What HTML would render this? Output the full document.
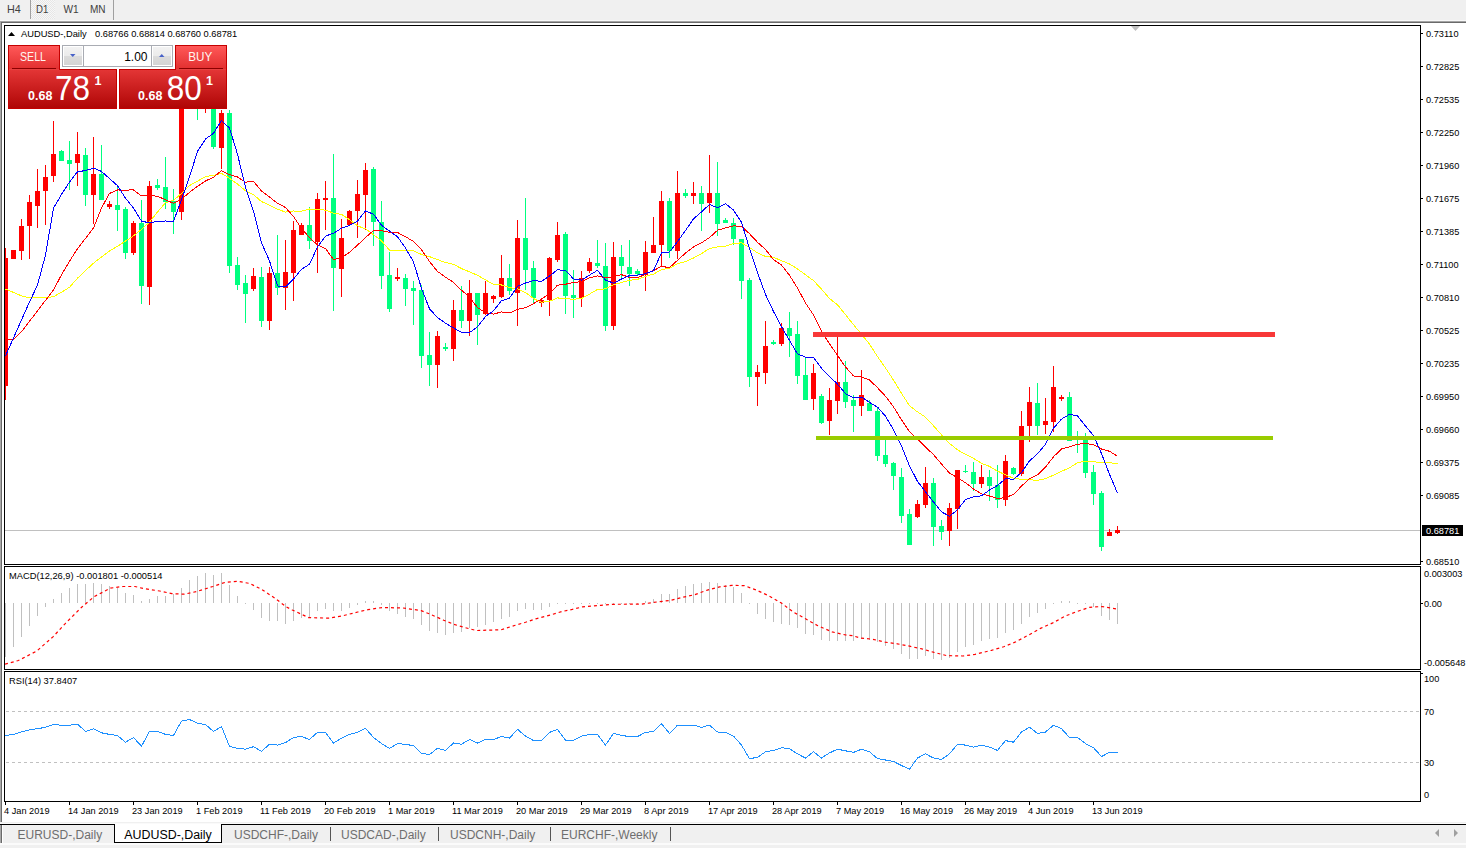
<!DOCTYPE html><html><head><meta charset="utf-8"><style>html,body{margin:0;padding:0;background:#f0f0f0;width:1466px;height:848px;overflow:hidden}svg{display:block}text{font-family:"Liberation Sans",sans-serif}</style></head><body>
<svg width="1466" height="848" viewBox="0 0 1466 848">
<defs>
<pattern id="chk" width="2" height="2" patternUnits="userSpaceOnUse"><rect width="2" height="2" fill="#f7f7f7"/><rect width="1" height="1" fill="#e6e6e6"/><rect x="1" y="1" width="1" height="1" fill="#e6e6e6"/></pattern>
<linearGradient id="hdr" x1="0" y1="0" x2="0" y2="1"><stop offset="0" stop-color="#ff5858"/><stop offset="1" stop-color="#e23030"/></linearGradient>
<linearGradient id="prc" x1="0" y1="0" x2="0" y2="1"><stop offset="0" stop-color="#e33535"/><stop offset="1" stop-color="#b00606"/></linearGradient>
<linearGradient id="btn" x1="0" y1="0" x2="0" y2="1"><stop offset="0" stop-color="#f2f2f2"/><stop offset="0.5" stop-color="#ebebeb"/><stop offset="0.5" stop-color="#dcdcdc"/><stop offset="1" stop-color="#d4d4d4"/></linearGradient>
<clipPath id="cmain"><rect x="5" y="26" width="1415" height="538"/></clipPath>
<clipPath id="cmacd"><rect x="5" y="567" width="1415" height="102"/></clipPath>
<clipPath id="crsi"><rect x="5" y="672" width="1415" height="129"/></clipPath>
</defs>
<rect x="0" y="0" width="1466" height="848" fill="#f0f0f0"/>
<rect x="31" y="0" width="24" height="19" fill="url(#chk)"/>
<rect x="30" y="0" width="1" height="19" fill="#a0a0a0"/>
<rect x="113" y="0" width="1" height="20" fill="#a0a0a0"/>
<rect x="0" y="20" width="1466" height="1" fill="#f8f8f8"/>
<text x="7" y="13" font-size="10.6" textLength="13.8" lengthAdjust="spacingAndGlyphs" fill="#404040">H4</text>
<text x="36" y="13" font-size="10.6" textLength="12.3" lengthAdjust="spacingAndGlyphs" fill="#404040">D1</text>
<text x="63.5" y="13" font-size="10.6" textLength="15.2" lengthAdjust="spacingAndGlyphs" fill="#404040">W1</text>
<text x="90" y="13" font-size="10.6" textLength="15.6" lengthAdjust="spacingAndGlyphs" fill="#404040">MN</text>
<rect x="0" y="21" width="1466" height="1" fill="#a4a4a4"/>
<rect x="0" y="22" width="1466" height="1" fill="#6a6a6a"/>
<rect x="0" y="21" width="1" height="801" fill="#a8a8a8"/>
<rect x="1" y="22" width="1" height="800" fill="#6a6a6a"/>
<rect x="2" y="23" width="1464" height="799" fill="#ffffff"/>
<g clip-path="url(#cmain)" shape-rendering="crispEdges">
<rect x="5" y="530" width="1415" height="1" fill="#c0c0c0"/>
<rect x="5" y="247.5" width="1" height="152.0" fill="#ff0000"/>
<rect x="3" y="257.5" width="5" height="128.0" fill="#ff0000"/>
<rect x="13" y="249.5" width="1" height="9.2" fill="#ff0000"/>
<rect x="11" y="250.0" width="5" height="8.8" fill="#ff0000"/>
<rect x="21" y="219.0" width="1" height="41.0" fill="#ff0000"/>
<rect x="19" y="226.0" width="5" height="25.0" fill="#ff0000"/>
<rect x="29" y="195.0" width="1" height="63.8" fill="#ff0000"/>
<rect x="27" y="202.0" width="5" height="23.5" fill="#ff0000"/>
<rect x="37" y="168.8" width="1" height="58.8" fill="#ff0000"/>
<rect x="35" y="191.2" width="5" height="15.0" fill="#ff0000"/>
<rect x="45" y="165.0" width="1" height="60.0" fill="#ff0000"/>
<rect x="43" y="177.0" width="5" height="13.5" fill="#ff0000"/>
<rect x="53" y="121.2" width="1" height="61.2" fill="#ff0000"/>
<rect x="51" y="153.8" width="5" height="21.8" fill="#ff0000"/>
<rect x="61" y="150.0" width="1" height="10.5" fill="#00ff7f"/>
<rect x="59" y="150.8" width="5" height="9.8" fill="#00ff7f"/>
<rect x="69" y="141.2" width="1" height="49.2" fill="#00ff7f"/>
<rect x="67" y="160.0" width="5" height="3.8" fill="#00ff7f"/>
<rect x="77" y="132.0" width="1" height="53.5" fill="#ff0000"/>
<rect x="75" y="153.8" width="5" height="8.8" fill="#ff0000"/>
<rect x="85" y="148.0" width="1" height="58.2" fill="#00ff7f"/>
<rect x="83" y="155.0" width="5" height="39.5" fill="#00ff7f"/>
<rect x="93" y="137.0" width="1" height="86.8" fill="#ff0000"/>
<rect x="91" y="173.8" width="5" height="20.8" fill="#ff0000"/>
<rect x="101" y="145.0" width="1" height="55.0" fill="#00ff7f"/>
<rect x="99" y="173.8" width="5" height="26.2" fill="#00ff7f"/>
<rect x="109" y="201.2" width="1" height="7.5" fill="#ff0000"/>
<rect x="107" y="203.8" width="5" height="3.2" fill="#ff0000"/>
<rect x="117" y="186.2" width="1" height="45.0" fill="#00ff7f"/>
<rect x="115" y="205.0" width="5" height="4.5" fill="#00ff7f"/>
<rect x="125" y="207.0" width="1" height="51.8" fill="#00ff7f"/>
<rect x="123" y="208.8" width="5" height="43.8" fill="#00ff7f"/>
<rect x="133" y="221.2" width="1" height="33.8" fill="#ff0000"/>
<rect x="131" y="222.5" width="5" height="30.5" fill="#ff0000"/>
<rect x="141" y="200.0" width="1" height="103.8" fill="#00ff7f"/>
<rect x="139" y="222.5" width="5" height="63.5" fill="#00ff7f"/>
<rect x="149" y="181.2" width="1" height="123.8" fill="#ff0000"/>
<rect x="147" y="186.2" width="5" height="100.8" fill="#ff0000"/>
<rect x="157" y="178.8" width="1" height="11.2" fill="#00ff7f"/>
<rect x="155" y="185.0" width="5" height="3.0" fill="#00ff7f"/>
<rect x="165" y="157.0" width="1" height="51.8" fill="#00ff7f"/>
<rect x="163" y="187.0" width="5" height="15.0" fill="#00ff7f"/>
<rect x="173" y="188.8" width="1" height="45.0" fill="#00ff7f"/>
<rect x="171" y="201.2" width="5" height="10.8" fill="#00ff7f"/>
<rect x="181" y="95.0" width="1" height="124.6" fill="#ff0000"/>
<rect x="179" y="102.0" width="5" height="110.3" fill="#ff0000"/>
<rect x="189" y="55.0" width="1" height="53.0" fill="#ff0000"/>
<rect x="187" y="61.5" width="5" height="40.5" fill="#ff0000"/>
<rect x="197" y="55.0" width="1" height="65.3" fill="#00ff7f"/>
<rect x="195" y="61.5" width="5" height="46.5" fill="#00ff7f"/>
<rect x="205" y="95.0" width="1" height="17.7" fill="#ff0000"/>
<rect x="203" y="100.0" width="5" height="8.0" fill="#ff0000"/>
<rect x="213" y="98.0" width="1" height="51.4" fill="#00ff7f"/>
<rect x="211" y="102.0" width="5" height="45.1" fill="#00ff7f"/>
<rect x="221" y="110.4" width="1" height="59.0" fill="#ff0000"/>
<rect x="219" y="112.7" width="5" height="34.9" fill="#ff0000"/>
<rect x="229" y="110.0" width="1" height="162.5" fill="#00ff7f"/>
<rect x="227" y="113.0" width="5" height="152.5" fill="#00ff7f"/>
<rect x="237" y="257.0" width="1" height="32.5" fill="#00ff7f"/>
<rect x="235" y="265.0" width="5" height="19.5" fill="#00ff7f"/>
<rect x="245" y="275.2" width="1" height="47.6" fill="#00ff7f"/>
<rect x="243" y="283.0" width="5" height="11.0" fill="#00ff7f"/>
<rect x="253" y="268.1" width="1" height="22.9" fill="#ff0000"/>
<rect x="251" y="276.0" width="5" height="12.6" fill="#ff0000"/>
<rect x="261" y="267.1" width="1" height="60.0" fill="#00ff7f"/>
<rect x="259" y="277.2" width="5" height="43.6" fill="#00ff7f"/>
<rect x="269" y="267.1" width="1" height="62.8" fill="#ff0000"/>
<rect x="267" y="273.0" width="5" height="47.8" fill="#ff0000"/>
<rect x="277" y="235.0" width="1" height="59.9" fill="#00ff7f"/>
<rect x="275" y="272.5" width="5" height="15.3" fill="#00ff7f"/>
<rect x="285" y="240.0" width="1" height="69.9" fill="#ff0000"/>
<rect x="283" y="272.1" width="5" height="15.7" fill="#ff0000"/>
<rect x="293" y="221.2" width="1" height="79.8" fill="#ff0000"/>
<rect x="291" y="230.0" width="5" height="42.8" fill="#ff0000"/>
<rect x="301" y="222.5" width="1" height="12.0" fill="#ff0000"/>
<rect x="299" y="225.0" width="5" height="9.5" fill="#ff0000"/>
<rect x="309" y="207.0" width="1" height="41.8" fill="#00ff7f"/>
<rect x="307" y="225.0" width="5" height="16.2" fill="#00ff7f"/>
<rect x="317" y="192.5" width="1" height="80.0" fill="#ff0000"/>
<rect x="315" y="198.8" width="5" height="43.2" fill="#ff0000"/>
<rect x="325" y="181.2" width="1" height="48.8" fill="#ff0000"/>
<rect x="323" y="198.0" width="5" height="2.0" fill="#ff0000"/>
<rect x="333" y="153.8" width="1" height="157.5" fill="#00ff7f"/>
<rect x="331" y="198.0" width="5" height="69.5" fill="#00ff7f"/>
<rect x="341" y="218.8" width="1" height="78.2" fill="#ff0000"/>
<rect x="339" y="237.5" width="5" height="31.2" fill="#ff0000"/>
<rect x="349" y="210.0" width="1" height="15.0" fill="#ff0000"/>
<rect x="347" y="210.5" width="5" height="14.0" fill="#ff0000"/>
<rect x="357" y="180.0" width="1" height="57.5" fill="#ff0000"/>
<rect x="355" y="193.8" width="5" height="17.5" fill="#ff0000"/>
<rect x="365" y="162.5" width="1" height="67.0" fill="#ff0000"/>
<rect x="363" y="170.0" width="5" height="25.0" fill="#ff0000"/>
<rect x="373" y="167.0" width="1" height="78.5" fill="#00ff7f"/>
<rect x="371" y="168.8" width="5" height="53.2" fill="#00ff7f"/>
<rect x="381" y="201.2" width="1" height="87.5" fill="#00ff7f"/>
<rect x="379" y="222.0" width="5" height="53.5" fill="#00ff7f"/>
<rect x="389" y="252.0" width="1" height="60.0" fill="#00ff7f"/>
<rect x="387" y="275.0" width="5" height="33.8" fill="#00ff7f"/>
<rect x="397" y="268.0" width="1" height="12.5" fill="#ff0000"/>
<rect x="395" y="277.0" width="5" height="2.0" fill="#ff0000"/>
<rect x="405" y="273.8" width="1" height="31.8" fill="#00ff7f"/>
<rect x="403" y="278.0" width="5" height="10.8" fill="#00ff7f"/>
<rect x="413" y="281.0" width="1" height="43.5" fill="#00ff7f"/>
<rect x="411" y="288.0" width="5" height="3.2" fill="#00ff7f"/>
<rect x="421" y="285.0" width="1" height="82.5" fill="#00ff7f"/>
<rect x="419" y="290.0" width="5" height="65.5" fill="#00ff7f"/>
<rect x="429" y="332.0" width="1" height="54.0" fill="#00ff7f"/>
<rect x="427" y="355.0" width="5" height="10.0" fill="#00ff7f"/>
<rect x="437" y="331.2" width="1" height="56.8" fill="#ff0000"/>
<rect x="435" y="336.2" width="5" height="29.2" fill="#ff0000"/>
<rect x="445" y="342.5" width="1" height="8.8" fill="#00ff7f"/>
<rect x="443" y="347.0" width="5" height="1.8" fill="#00ff7f"/>
<rect x="453" y="299.5" width="1" height="61.8" fill="#ff0000"/>
<rect x="451" y="309.5" width="5" height="39.2" fill="#ff0000"/>
<rect x="461" y="286.2" width="1" height="41.8" fill="#00ff7f"/>
<rect x="459" y="310.0" width="5" height="10.5" fill="#00ff7f"/>
<rect x="469" y="279.5" width="1" height="56.0" fill="#ff0000"/>
<rect x="467" y="292.5" width="5" height="28.0" fill="#ff0000"/>
<rect x="477" y="292.5" width="1" height="52.0" fill="#00ff7f"/>
<rect x="475" y="293.0" width="5" height="22.0" fill="#00ff7f"/>
<rect x="485" y="281.2" width="1" height="33.8" fill="#ff0000"/>
<rect x="483" y="293.0" width="5" height="20.8" fill="#ff0000"/>
<rect x="493" y="295.0" width="1" height="7.5" fill="#ff0000"/>
<rect x="491" y="296.2" width="5" height="2.5" fill="#ff0000"/>
<rect x="501" y="254.5" width="1" height="43.0" fill="#ff0000"/>
<rect x="499" y="278.0" width="5" height="19.0" fill="#ff0000"/>
<rect x="509" y="263.8" width="1" height="30.8" fill="#00ff7f"/>
<rect x="507" y="278.0" width="5" height="13.2" fill="#00ff7f"/>
<rect x="517" y="219.5" width="1" height="106.8" fill="#ff0000"/>
<rect x="515" y="238.0" width="5" height="54.5" fill="#ff0000"/>
<rect x="525" y="198.0" width="1" height="91.5" fill="#00ff7f"/>
<rect x="523" y="238.0" width="5" height="31.5" fill="#00ff7f"/>
<rect x="533" y="260.5" width="1" height="42.5" fill="#00ff7f"/>
<rect x="531" y="268.0" width="5" height="29.5" fill="#00ff7f"/>
<rect x="541" y="297.5" width="1" height="9.5" fill="#ff0000"/>
<rect x="539" y="299.5" width="5" height="3.5" fill="#ff0000"/>
<rect x="549" y="257.0" width="1" height="59.2" fill="#ff0000"/>
<rect x="547" y="258.0" width="5" height="42.0" fill="#ff0000"/>
<rect x="557" y="222.0" width="1" height="40.0" fill="#ff0000"/>
<rect x="555" y="235.0" width="5" height="25.0" fill="#ff0000"/>
<rect x="565" y="232.0" width="1" height="81.8" fill="#00ff7f"/>
<rect x="563" y="233.8" width="5" height="61.8" fill="#00ff7f"/>
<rect x="573" y="270.0" width="1" height="47.5" fill="#00ff7f"/>
<rect x="571" y="295.0" width="5" height="2.5" fill="#00ff7f"/>
<rect x="581" y="271.2" width="1" height="35.8" fill="#ff0000"/>
<rect x="579" y="278.0" width="5" height="19.5" fill="#ff0000"/>
<rect x="589" y="258.0" width="1" height="14.5" fill="#ff0000"/>
<rect x="587" y="262.0" width="5" height="8.5" fill="#ff0000"/>
<rect x="597" y="240.0" width="1" height="27.5" fill="#00ff7f"/>
<rect x="595" y="263.0" width="5" height="3.2" fill="#00ff7f"/>
<rect x="605" y="243.0" width="1" height="88.2" fill="#00ff7f"/>
<rect x="603" y="266.2" width="5" height="60.0" fill="#00ff7f"/>
<rect x="613" y="242.0" width="1" height="87.5" fill="#ff0000"/>
<rect x="611" y="257.0" width="5" height="69.2" fill="#ff0000"/>
<rect x="621" y="245.0" width="1" height="33.0" fill="#00ff7f"/>
<rect x="619" y="257.0" width="5" height="9.2" fill="#00ff7f"/>
<rect x="629" y="240.0" width="1" height="45.5" fill="#00ff7f"/>
<rect x="627" y="267.0" width="5" height="6.8" fill="#00ff7f"/>
<rect x="637" y="268.8" width="1" height="7.5" fill="#00ff7f"/>
<rect x="635" y="271.2" width="5" height="3.2" fill="#00ff7f"/>
<rect x="645" y="241.2" width="1" height="50.0" fill="#ff0000"/>
<rect x="643" y="252.0" width="5" height="22.5" fill="#ff0000"/>
<rect x="653" y="217.0" width="1" height="36.0" fill="#ff0000"/>
<rect x="651" y="245.0" width="5" height="7.5" fill="#ff0000"/>
<rect x="661" y="191.2" width="1" height="75.0" fill="#ff0000"/>
<rect x="659" y="201.2" width="5" height="44.2" fill="#ff0000"/>
<rect x="669" y="198.0" width="1" height="60.0" fill="#00ff7f"/>
<rect x="667" y="201.2" width="5" height="50.0" fill="#00ff7f"/>
<rect x="677" y="171.2" width="1" height="87.5" fill="#ff0000"/>
<rect x="675" y="193.0" width="5" height="57.5" fill="#ff0000"/>
<rect x="685" y="188.8" width="1" height="8.8" fill="#00ff7f"/>
<rect x="683" y="193.0" width="5" height="3.2" fill="#00ff7f"/>
<rect x="693" y="182.0" width="1" height="21.8" fill="#ff0000"/>
<rect x="691" y="193.0" width="5" height="2.5" fill="#ff0000"/>
<rect x="701" y="186.2" width="1" height="45.0" fill="#00ff7f"/>
<rect x="699" y="193.0" width="5" height="10.8" fill="#00ff7f"/>
<rect x="709" y="155.0" width="1" height="57.5" fill="#ff0000"/>
<rect x="707" y="193.0" width="5" height="9.5" fill="#ff0000"/>
<rect x="717" y="162.0" width="1" height="73.5" fill="#00ff7f"/>
<rect x="715" y="193.0" width="5" height="30.8" fill="#00ff7f"/>
<rect x="725" y="218.0" width="1" height="4.5" fill="#00ff7f"/>
<rect x="723" y="219.5" width="5" height="3.0" fill="#00ff7f"/>
<rect x="733" y="218.0" width="1" height="26.5" fill="#00ff7f"/>
<rect x="731" y="222.5" width="5" height="16.2" fill="#00ff7f"/>
<rect x="741" y="238.8" width="1" height="60.0" fill="#00ff7f"/>
<rect x="739" y="238.8" width="5" height="42.5" fill="#00ff7f"/>
<rect x="749" y="278.0" width="1" height="109.0" fill="#00ff7f"/>
<rect x="747" y="280.0" width="5" height="97.0" fill="#00ff7f"/>
<rect x="757" y="365.0" width="1" height="40.5" fill="#ff0000"/>
<rect x="755" y="372.0" width="5" height="5.0" fill="#ff0000"/>
<rect x="765" y="321.2" width="1" height="62.5" fill="#ff0000"/>
<rect x="763" y="345.5" width="5" height="27.5" fill="#ff0000"/>
<rect x="773" y="340.0" width="1" height="4.5" fill="#00ff7f"/>
<rect x="771" y="341.5" width="5" height="2.0" fill="#00ff7f"/>
<rect x="781" y="322.5" width="1" height="23.8" fill="#ff0000"/>
<rect x="779" y="328.0" width="5" height="15.8" fill="#ff0000"/>
<rect x="789" y="312.0" width="1" height="45.0" fill="#00ff7f"/>
<rect x="787" y="328.0" width="5" height="7.5" fill="#00ff7f"/>
<rect x="797" y="321.2" width="1" height="62.5" fill="#00ff7f"/>
<rect x="795" y="333.8" width="5" height="41.8" fill="#00ff7f"/>
<rect x="805" y="357.0" width="1" height="43.0" fill="#00ff7f"/>
<rect x="803" y="375.0" width="5" height="25.0" fill="#00ff7f"/>
<rect x="813" y="363.8" width="1" height="46.2" fill="#ff0000"/>
<rect x="811" y="373.0" width="5" height="25.8" fill="#ff0000"/>
<rect x="821" y="393.8" width="1" height="30.0" fill="#00ff7f"/>
<rect x="819" y="395.5" width="5" height="27.0" fill="#00ff7f"/>
<rect x="829" y="388.0" width="1" height="46.5" fill="#ff0000"/>
<rect x="827" y="400.0" width="5" height="21.2" fill="#ff0000"/>
<rect x="837" y="335.0" width="1" height="78.8" fill="#ff0000"/>
<rect x="835" y="382.0" width="5" height="19.2" fill="#ff0000"/>
<rect x="845" y="361.2" width="1" height="46.8" fill="#00ff7f"/>
<rect x="843" y="382.0" width="5" height="20.0" fill="#00ff7f"/>
<rect x="853" y="394.5" width="1" height="37.5" fill="#00ff7f"/>
<rect x="851" y="399.5" width="5" height="6.0" fill="#00ff7f"/>
<rect x="861" y="370.0" width="1" height="45.5" fill="#ff0000"/>
<rect x="859" y="394.5" width="5" height="11.0" fill="#ff0000"/>
<rect x="869" y="400.0" width="1" height="10.5" fill="#00ff7f"/>
<rect x="867" y="403.0" width="5" height="7.5" fill="#00ff7f"/>
<rect x="877" y="407.0" width="1" height="54.2" fill="#00ff7f"/>
<rect x="875" y="410.5" width="5" height="45.0" fill="#00ff7f"/>
<rect x="885" y="439.5" width="1" height="27.5" fill="#00ff7f"/>
<rect x="883" y="455.0" width="5" height="8.8" fill="#00ff7f"/>
<rect x="893" y="462.0" width="1" height="27.5" fill="#00ff7f"/>
<rect x="891" y="463.0" width="5" height="13.2" fill="#00ff7f"/>
<rect x="901" y="468.0" width="1" height="54.5" fill="#00ff7f"/>
<rect x="899" y="477.0" width="5" height="38.5" fill="#00ff7f"/>
<rect x="909" y="508.8" width="1" height="35.8" fill="#00ff7f"/>
<rect x="907" y="513.8" width="5" height="30.8" fill="#00ff7f"/>
<rect x="917" y="500.0" width="1" height="18.0" fill="#ff0000"/>
<rect x="915" y="503.8" width="5" height="13.2" fill="#ff0000"/>
<rect x="925" y="467.0" width="1" height="41.0" fill="#ff0000"/>
<rect x="923" y="483.0" width="5" height="21.5" fill="#ff0000"/>
<rect x="933" y="478.0" width="1" height="67.5" fill="#00ff7f"/>
<rect x="931" y="483.0" width="5" height="44.0" fill="#00ff7f"/>
<rect x="941" y="519.5" width="1" height="20.0" fill="#00ff7f"/>
<rect x="939" y="526.2" width="5" height="6.2" fill="#00ff7f"/>
<rect x="949" y="503.0" width="1" height="43.2" fill="#ff0000"/>
<rect x="947" y="508.0" width="5" height="23.2" fill="#ff0000"/>
<rect x="957" y="469.5" width="1" height="59.2" fill="#ff0000"/>
<rect x="955" y="470.0" width="5" height="38.8" fill="#ff0000"/>
<rect x="965" y="465.0" width="1" height="7.5" fill="#00ff7f"/>
<rect x="963" y="471.2" width="5" height="1.2" fill="#00ff7f"/>
<rect x="973" y="462.0" width="1" height="29.2" fill="#00ff7f"/>
<rect x="971" y="472.0" width="5" height="11.8" fill="#00ff7f"/>
<rect x="981" y="465.0" width="1" height="22.5" fill="#ff0000"/>
<rect x="979" y="477.0" width="5" height="6.8" fill="#ff0000"/>
<rect x="989" y="470.0" width="1" height="31.2" fill="#00ff7f"/>
<rect x="987" y="477.0" width="5" height="9.2" fill="#00ff7f"/>
<rect x="997" y="464.5" width="1" height="43.0" fill="#00ff7f"/>
<rect x="995" y="485.0" width="5" height="15.0" fill="#00ff7f"/>
<rect x="1005" y="455.0" width="1" height="50.5" fill="#ff0000"/>
<rect x="1003" y="461.2" width="5" height="38.8" fill="#ff0000"/>
<rect x="1013" y="467.0" width="1" height="7.5" fill="#00ff7f"/>
<rect x="1011" y="467.5" width="5" height="6.2" fill="#00ff7f"/>
<rect x="1021" y="410.5" width="1" height="65.8" fill="#ff0000"/>
<rect x="1019" y="426.2" width="5" height="47.5" fill="#ff0000"/>
<rect x="1029" y="387.0" width="1" height="55.0" fill="#ff0000"/>
<rect x="1027" y="402.0" width="5" height="23.5" fill="#ff0000"/>
<rect x="1037" y="383.0" width="1" height="51.5" fill="#00ff7f"/>
<rect x="1035" y="403.0" width="5" height="23.2" fill="#00ff7f"/>
<rect x="1045" y="398.0" width="1" height="35.8" fill="#ff0000"/>
<rect x="1043" y="421.2" width="5" height="4.2" fill="#ff0000"/>
<rect x="1053" y="366.2" width="1" height="66.2" fill="#ff0000"/>
<rect x="1051" y="387.0" width="5" height="35.0" fill="#ff0000"/>
<rect x="1061" y="394.5" width="1" height="6.0" fill="#ff0000"/>
<rect x="1059" y="397.0" width="5" height="1.5" fill="#ff0000"/>
<rect x="1069" y="392.0" width="1" height="48.5" fill="#00ff7f"/>
<rect x="1067" y="397.0" width="5" height="43.5" fill="#00ff7f"/>
<rect x="1077" y="430.5" width="1" height="22.0" fill="#00ff7f"/>
<rect x="1075" y="435.5" width="5" height="1.5" fill="#00ff7f"/>
<rect x="1085" y="433.0" width="1" height="44.5" fill="#00ff7f"/>
<rect x="1083" y="435.5" width="5" height="37.5" fill="#00ff7f"/>
<rect x="1093" y="464.5" width="1" height="40.0" fill="#00ff7f"/>
<rect x="1091" y="472.0" width="5" height="21.8" fill="#00ff7f"/>
<rect x="1101" y="490.5" width="1" height="60.0" fill="#00ff7f"/>
<rect x="1099" y="493.0" width="5" height="54.0" fill="#00ff7f"/>
<rect x="1109" y="528.8" width="1" height="7.5" fill="#ff0000"/>
<rect x="1107" y="532.0" width="5" height="4.2" fill="#ff0000"/>
<rect x="1117" y="525.5" width="1" height="8.2" fill="#ff0000"/>
<rect x="1115" y="529.5" width="5" height="3.5" fill="#ff0000"/>
</g>
<g clip-path="url(#cmain)">
<polyline fill="none" stroke="#ffff00" stroke-width="1" shape-rendering="crispEdges" points="5.5,289.0 13.5,292.4 21.5,295.9 29.5,297.9 37.5,297.7 45.5,297.6 53.5,296.8 61.5,292.2 69.5,287.3 77.5,278.2 85.5,270.6 93.5,263.2 101.5,257.0 109.5,251.1 117.5,246.2 125.5,241.1 133.5,235.9 141.5,229.4 149.5,222.0 157.5,212.0 165.5,202.6 173.5,200.4 181.5,193.4 189.5,185.5 197.5,181.1 205.5,176.7 213.5,175.3 221.5,173.3 229.5,178.3 237.5,184.1 245.5,190.8 253.5,194.6 261.5,201.6 269.5,205.1 277.5,209.1 285.5,212.1 293.5,211.0 301.5,211.2 309.5,209.0 317.5,209.6 325.5,210.1 333.5,213.2 341.5,214.4 349.5,219.6 357.5,225.9 365.5,228.8 373.5,234.7 381.5,240.8 389.5,250.1 397.5,250.7 405.5,250.9 413.5,250.7 421.5,254.5 429.5,256.6 437.5,259.6 445.5,262.5 453.5,264.3 461.5,268.6 469.5,271.8 477.5,275.3 485.5,279.8 493.5,284.5 501.5,285.0 509.5,287.6 517.5,288.9 525.5,292.5 533.5,298.6 541.5,302.2 549.5,301.4 557.5,297.9 565.5,298.8 573.5,299.2 581.5,298.6 589.5,294.1 597.5,289.4 605.5,288.9 613.5,284.6 621.5,282.5 629.5,280.3 637.5,279.4 645.5,276.4 653.5,274.1 661.5,269.6 669.5,268.3 677.5,263.7 685.5,261.7 693.5,258.0 701.5,253.6 709.5,248.5 717.5,246.9 725.5,246.3 733.5,243.6 741.5,242.8 749.5,247.5 757.5,252.8 765.5,256.5 773.5,257.3 781.5,260.7 789.5,264.0 797.5,268.9 805.5,274.8 813.5,280.6 821.5,289.1 829.5,298.5 837.5,304.8 845.5,314.7 853.5,324.7 861.5,334.3 869.5,344.1 877.5,356.6 885.5,368.0 893.5,380.1 901.5,393.3 909.5,405.8 917.5,411.9 925.5,417.2 933.5,425.8 941.5,434.8 949.5,443.4 957.5,449.8 965.5,454.4 973.5,458.4 981.5,463.3 989.5,466.4 997.5,471.1 1005.5,474.9 1013.5,478.3 1021.5,479.3 1029.5,479.7 1037.5,480.4 1045.5,478.8 1053.5,475.1 1061.5,471.4 1069.5,467.8 1077.5,462.7 1085.5,461.2 1093.5,461.7 1101.5,462.7 1109.5,462.6 1117.5,463.7"/>
<polyline fill="none" stroke="#ff0000" stroke-width="1" shape-rendering="crispEdges" points="5.5,340.0 13.5,339.6 21.5,331.7 29.5,321.3 37.5,310.8 45.5,300.4 53.5,290.0 61.5,274.8 69.5,261.3 77.5,248.7 85.5,238.4 93.5,228.0 101.5,208.0 109.5,193.4 117.5,190.0 125.5,190.1 133.5,189.9 141.5,195.9 149.5,195.5 157.5,196.3 165.5,199.8 173.5,203.4 181.5,199.0 189.5,192.4 197.5,186.3 205.5,181.0 213.5,177.2 221.5,170.7 229.5,174.7 237.5,177.0 245.5,182.1 253.5,181.4 261.5,191.0 269.5,197.1 277.5,203.2 285.5,207.5 293.5,216.6 301.5,228.3 309.5,237.8 317.5,244.9 325.5,248.5 333.5,259.6 341.5,257.6 349.5,252.3 357.5,245.1 365.5,237.6 373.5,230.5 381.5,230.7 389.5,232.2 397.5,232.5 405.5,236.7 413.5,241.5 421.5,249.6 429.5,261.5 437.5,271.4 445.5,277.2 453.5,282.3 461.5,290.2 469.5,297.2 477.5,307.6 485.5,312.7 493.5,314.1 501.5,311.9 509.5,313.0 517.5,309.3 525.5,307.8 533.5,303.6 541.5,299.0 549.5,293.4 557.5,285.2 565.5,284.2 573.5,282.6 581.5,281.6 589.5,277.8 597.5,275.9 605.5,278.0 613.5,276.5 621.5,274.7 629.5,277.3 637.5,277.6 645.5,274.4 653.5,270.5 661.5,266.4 669.5,267.6 677.5,260.3 685.5,253.1 693.5,247.0 701.5,242.8 709.5,237.6 717.5,230.3 725.5,227.8 733.5,225.8 741.5,226.4 749.5,233.7 757.5,242.3 765.5,249.4 773.5,259.6 781.5,265.1 789.5,275.3 797.5,288.1 805.5,302.9 813.5,314.9 821.5,331.3 829.5,343.9 837.5,355.3 845.5,367.0 853.5,375.9 861.5,377.1 869.5,379.9 877.5,387.7 885.5,396.3 893.5,406.9 901.5,419.8 909.5,431.8 917.5,439.2 925.5,447.1 933.5,454.6 941.5,464.0 949.5,473.0 957.5,477.9 965.5,482.7 973.5,489.0 981.5,493.8 989.5,496.0 997.5,498.6 1005.5,497.5 1013.5,494.5 1021.5,486.1 1029.5,478.8 1037.5,474.8 1045.5,467.2 1053.5,456.8 1061.5,448.9 1069.5,446.8 1077.5,444.2 1085.5,443.5 1093.5,444.7 1101.5,449.0 1109.5,451.3 1117.5,456.2"/>
<polyline fill="none" stroke="#0000ff" stroke-width="1" shape-rendering="crispEdges" points="5.5,356.0 13.5,338.0 21.5,320.0 29.5,302.0 37.5,285.0 45.5,255.0 53.5,208.2 61.5,194.4 69.5,182.0 77.5,171.7 85.5,170.6 93.5,168.1 101.5,171.4 109.5,178.6 117.5,185.6 125.5,198.2 133.5,208.1 141.5,221.1 149.5,222.9 157.5,221.2 165.5,221.0 173.5,221.3 181.5,199.8 189.5,176.8 197.5,151.4 205.5,139.1 213.5,133.2 221.5,120.5 229.5,128.1 237.5,154.2 245.5,187.4 253.5,211.4 261.5,242.9 269.5,260.9 277.5,285.9 285.5,286.9 293.5,279.1 301.5,269.2 309.5,264.3 317.5,246.8 325.5,236.1 333.5,233.2 341.5,228.3 349.5,225.5 357.5,221.0 365.5,210.9 373.5,214.2 381.5,225.2 389.5,231.1 397.5,236.8 405.5,248.0 413.5,261.9 421.5,288.4 429.5,308.8 437.5,317.5 445.5,323.2 453.5,327.9 461.5,332.4 469.5,332.6 477.5,326.8 485.5,316.5 493.5,310.8 501.5,300.7 509.5,298.1 517.5,286.3 525.5,283.0 533.5,280.5 541.5,281.4 549.5,276.0 557.5,269.8 565.5,270.4 573.5,278.9 581.5,280.1 589.5,275.1 597.5,270.3 605.5,280.1 613.5,283.2 621.5,279.0 629.5,275.6 637.5,275.1 645.5,273.7 653.5,270.7 661.5,252.8 669.5,252.0 677.5,241.5 685.5,230.5 693.5,218.8 701.5,211.9 709.5,204.5 717.5,207.7 725.5,203.6 733.5,210.1 741.5,222.3 749.5,248.6 757.5,272.6 765.5,294.4 773.5,311.5 781.5,326.6 789.5,340.4 797.5,353.9 805.5,357.1 813.5,357.3 821.5,368.3 829.5,376.4 837.5,384.1 845.5,393.6 853.5,397.9 861.5,397.1 869.5,402.4 877.5,407.1 885.5,416.2 893.5,429.7 901.5,445.9 909.5,465.8 917.5,481.4 925.5,491.8 933.5,502.0 941.5,511.8 949.5,516.3 957.5,509.8 965.5,499.5 973.5,496.7 981.5,495.8 989.5,490.0 997.5,485.4 1005.5,478.7 1013.5,479.2 1021.5,472.6 1029.5,460.9 1037.5,453.7 1045.5,444.4 1053.5,428.2 1061.5,419.1 1069.5,414.3 1077.5,415.9 1085.5,426.0 1093.5,435.6 1101.5,453.6 1109.5,474.3 1117.5,493.2"/>
<rect x="813" y="332" width="462" height="5" fill="#f83838"/>
<rect x="816" y="436" width="457" height="4" fill="#99cc00"/>
</g>
<polygon points="1131,26 1140,26 1135.5,31" fill="#c0c0c0"/>
<rect x="4" y="25" width="1417" height="1" fill="#000"/>
<rect x="4" y="564" width="1417" height="1" fill="#000"/>
<rect x="4" y="25" width="1" height="540" fill="#000"/>
<rect x="1420" y="25" width="1" height="540" fill="#000"/>
<rect x="1421" y="33" width="2" height="1" fill="#000"/>
<text x="1426" y="36.8" font-size="9.6" textLength="32.57" lengthAdjust="spacingAndGlyphs" fill="#000" >0.73110</text>
<rect x="1421" y="66" width="2" height="1" fill="#000"/>
<text x="1426" y="69.8" font-size="9.6" textLength="33.26" lengthAdjust="spacingAndGlyphs" fill="#000" >0.72825</text>
<rect x="1421" y="99" width="2" height="1" fill="#000"/>
<text x="1426" y="102.8" font-size="9.6" textLength="33.26" lengthAdjust="spacingAndGlyphs" fill="#000" >0.72535</text>
<rect x="1421" y="132" width="2" height="1" fill="#000"/>
<text x="1426" y="135.8" font-size="9.6" textLength="33.26" lengthAdjust="spacingAndGlyphs" fill="#000" >0.72250</text>
<rect x="1421" y="165" width="2" height="1" fill="#000"/>
<text x="1426" y="168.8" font-size="9.6" textLength="33.26" lengthAdjust="spacingAndGlyphs" fill="#000" >0.71960</text>
<rect x="1421" y="198" width="2" height="1" fill="#000"/>
<text x="1426" y="201.8" font-size="9.6" textLength="33.26" lengthAdjust="spacingAndGlyphs" fill="#000" >0.71675</text>
<rect x="1421" y="231" width="2" height="1" fill="#000"/>
<text x="1426" y="234.8" font-size="9.6" textLength="33.26" lengthAdjust="spacingAndGlyphs" fill="#000" >0.71385</text>
<rect x="1421" y="264" width="2" height="1" fill="#000"/>
<text x="1426" y="267.8" font-size="9.6" textLength="32.57" lengthAdjust="spacingAndGlyphs" fill="#000" >0.71100</text>
<rect x="1421" y="297" width="2" height="1" fill="#000"/>
<text x="1426" y="300.8" font-size="9.6" textLength="33.26" lengthAdjust="spacingAndGlyphs" fill="#000" >0.70810</text>
<rect x="1421" y="330" width="2" height="1" fill="#000"/>
<text x="1426" y="333.8" font-size="9.6" textLength="33.26" lengthAdjust="spacingAndGlyphs" fill="#000" >0.70525</text>
<rect x="1421" y="363" width="2" height="1" fill="#000"/>
<text x="1426" y="366.8" font-size="9.6" textLength="33.26" lengthAdjust="spacingAndGlyphs" fill="#000" >0.70235</text>
<rect x="1421" y="396" width="2" height="1" fill="#000"/>
<text x="1426" y="399.8" font-size="9.6" textLength="33.26" lengthAdjust="spacingAndGlyphs" fill="#000" >0.69950</text>
<rect x="1421" y="429" width="2" height="1" fill="#000"/>
<text x="1426" y="432.8" font-size="9.6" textLength="33.26" lengthAdjust="spacingAndGlyphs" fill="#000" >0.69660</text>
<rect x="1421" y="462" width="2" height="1" fill="#000"/>
<text x="1426" y="465.8" font-size="9.6" textLength="33.26" lengthAdjust="spacingAndGlyphs" fill="#000" >0.69375</text>
<rect x="1421" y="495" width="2" height="1" fill="#000"/>
<text x="1426" y="498.8" font-size="9.6" textLength="33.26" lengthAdjust="spacingAndGlyphs" fill="#000" >0.69085</text>
<rect x="1421" y="561" width="2" height="1" fill="#000"/>
<text x="1426" y="564.5" font-size="9.6" textLength="33.26" lengthAdjust="spacingAndGlyphs" fill="#000" >0.68510</text>
<rect x="1422" y="525" width="41" height="11" fill="#000"/>
<text x="1426" y="533.5" font-size="9.6" textLength="33.26" lengthAdjust="spacingAndGlyphs" fill="#fff" >0.68781</text>
<polygon points="8,36 15,36 11.5,32" fill="#000"/>
<text x="21" y="37" font-size="9.6" textLength="65.62" lengthAdjust="spacingAndGlyphs" fill="#000" >AUDUSD-,Daily</text>
<text x="95" y="37" font-size="9.6" textLength="142.22" lengthAdjust="spacingAndGlyphs" fill="#000" >0.68766 0.68814 0.68760 0.68781</text>
<rect x="8" y="45" width="219" height="64" fill="#fff"/>
<rect x="8" y="45" width="52" height="25" fill="#c40000"/>
<rect x="9" y="46" width="50" height="23" fill="url(#hdr)"/>
<rect x="175" y="45" width="52" height="25" fill="#c40000"/>
<rect x="176" y="46" width="50" height="23" fill="url(#hdr)"/>
<rect x="8" y="69" width="109" height="40" fill="#c40000"/>
<rect x="9" y="70" width="107" height="38" fill="url(#prc)"/>
<rect x="9" y="69" width="50" height="1" fill="#e64040"/>
<rect x="119" y="69" width="108" height="40" fill="#c40000"/>
<rect x="120" y="70" width="106" height="38" fill="url(#prc)"/>
<rect x="176" y="69" width="50" height="1" fill="#e64040"/>
<rect x="12" y="68" width="44" height="1" fill="#8a0000"/>
<rect x="179" y="68" width="44" height="1" fill="#8a0000"/>
<rect x="62" y="45" width="111" height="22" fill="#a9acb3"/>
<rect x="63" y="46" width="109" height="20" fill="#fff"/>
<rect x="64" y="47" width="18" height="18" fill="url(#btn)"/>
<rect x="83" y="46" width="1" height="20" fill="#a9acb3"/>
<rect x="151" y="46" width="1" height="20" fill="#a9acb3"/>
<rect x="153" y="47" width="18" height="18" fill="url(#btn)"/>
<polygon points="70,54 75.5,54 72.75,57" fill="#4862c8"/>
<polygon points="159,57 164.5,57 161.75,54" fill="#4862c8"/>
<text x="147.5" y="60.5" font-size="12" text-anchor="end" fill="#000">1.00</text>
<text x="20" y="61" font-size="12.6" textLength="26" lengthAdjust="spacingAndGlyphs" fill="#fff5f0">SELL</text>
<text x="188.3" y="61" font-size="12.6" textLength="24" lengthAdjust="spacingAndGlyphs" fill="#fff5f0">BUY</text>
<text x="28" y="100" font-size="12.5" font-weight="bold" fill="#fff">0.68</text>
<text x="55" y="100.3" font-size="34.5" textLength="35" lengthAdjust="spacingAndGlyphs" fill="#fff">78</text>
<text x="94.5" y="84.5" font-size="12.5" font-weight="bold" fill="#fff">1</text>
<text x="138" y="100" font-size="12.5" font-weight="bold" fill="#fff">0.68</text>
<text x="166.8" y="100.3" font-size="34.5" textLength="35" lengthAdjust="spacingAndGlyphs" fill="#fff">80</text>
<text x="206" y="84.5" font-size="12.5" font-weight="bold" fill="#fff">1</text>
<g clip-path="url(#cmacd)" shape-rendering="crispEdges">
<rect x="5" y="603.0" width="1" height="54.0" fill="#c0c0c0"/>
<rect x="13" y="603.0" width="1" height="43.8" fill="#c0c0c0"/>
<rect x="21" y="603.0" width="1" height="33.6" fill="#c0c0c0"/>
<rect x="29" y="603.0" width="1" height="22.7" fill="#c0c0c0"/>
<rect x="37" y="603.0" width="1" height="12.5" fill="#c0c0c0"/>
<rect x="45" y="603.0" width="1" height="3.5" fill="#c0c0c0"/>
<rect x="53" y="598.7" width="1" height="4.3" fill="#c0c0c0"/>
<rect x="61" y="592.6" width="1" height="10.4" fill="#c0c0c0"/>
<rect x="69" y="588.0" width="1" height="15.0" fill="#c0c0c0"/>
<rect x="77" y="584.0" width="1" height="19.0" fill="#c0c0c0"/>
<rect x="85" y="584.0" width="1" height="19.0" fill="#c0c0c0"/>
<rect x="93" y="582.8" width="1" height="20.2" fill="#c0c0c0"/>
<rect x="101" y="584.0" width="1" height="19.0" fill="#c0c0c0"/>
<rect x="109" y="586.0" width="1" height="17.0" fill="#c0c0c0"/>
<rect x="117" y="588.0" width="1" height="15.0" fill="#c0c0c0"/>
<rect x="125" y="592.6" width="1" height="10.4" fill="#c0c0c0"/>
<rect x="133" y="594.6" width="1" height="8.4" fill="#c0c0c0"/>
<rect x="141" y="601.2" width="1" height="1.8" fill="#c0c0c0"/>
<rect x="149" y="599.0" width="1" height="4.0" fill="#c0c0c0"/>
<rect x="157" y="596.3" width="1" height="6.7" fill="#c0c0c0"/>
<rect x="165" y="595.7" width="1" height="7.3" fill="#c0c0c0"/>
<rect x="173" y="594.2" width="1" height="8.8" fill="#c0c0c0"/>
<rect x="181" y="588.0" width="1" height="15.0" fill="#c0c0c0"/>
<rect x="189" y="580.0" width="1" height="23.0" fill="#c0c0c0"/>
<rect x="197" y="576.2" width="1" height="26.8" fill="#c0c0c0"/>
<rect x="205" y="573.2" width="1" height="29.8" fill="#c0c0c0"/>
<rect x="213" y="575.2" width="1" height="27.8" fill="#c0c0c0"/>
<rect x="221" y="573.2" width="1" height="29.8" fill="#c0c0c0"/>
<rect x="229" y="584.8" width="1" height="18.2" fill="#c0c0c0"/>
<rect x="237" y="596.3" width="1" height="6.7" fill="#c0c0c0"/>
<rect x="245" y="603" width="1" height="1" fill="#c0c0c0"/>
<rect x="253" y="603.0" width="1" height="7.0" fill="#c0c0c0"/>
<rect x="261" y="603.0" width="1" height="14.6" fill="#c0c0c0"/>
<rect x="269" y="603.0" width="1" height="17.8" fill="#c0c0c0"/>
<rect x="277" y="603.0" width="1" height="17.8" fill="#c0c0c0"/>
<rect x="285" y="603.0" width="1" height="20.7" fill="#c0c0c0"/>
<rect x="293" y="603.0" width="1" height="17.8" fill="#c0c0c0"/>
<rect x="301" y="603.0" width="1" height="14.6" fill="#c0c0c0"/>
<rect x="309" y="603.0" width="1" height="14.2" fill="#c0c0c0"/>
<rect x="317" y="603.0" width="1" height="8.4" fill="#c0c0c0"/>
<rect x="325" y="603.0" width="1" height="6.0" fill="#c0c0c0"/>
<rect x="333" y="603.0" width="1" height="7.6" fill="#c0c0c0"/>
<rect x="341" y="603.0" width="1" height="7.6" fill="#c0c0c0"/>
<rect x="349" y="603.0" width="1" height="5.0" fill="#c0c0c0"/>
<rect x="357" y="603.0" width="1" height="1.9" fill="#c0c0c0"/>
<rect x="365" y="601.2" width="1" height="1.8" fill="#c0c0c0"/>
<rect x="373" y="601.2" width="1" height="1.8" fill="#c0c0c0"/>
<rect x="381" y="603.0" width="1" height="1.9" fill="#c0c0c0"/>
<rect x="389" y="603.0" width="1" height="8.4" fill="#c0c0c0"/>
<rect x="397" y="603.0" width="1" height="10.5" fill="#c0c0c0"/>
<rect x="405" y="603.0" width="1" height="13.7" fill="#c0c0c0"/>
<rect x="413" y="603.0" width="1" height="15.8" fill="#c0c0c0"/>
<rect x="421" y="603.0" width="1" height="21.9" fill="#c0c0c0"/>
<rect x="429" y="603.0" width="1" height="27.5" fill="#c0c0c0"/>
<rect x="437" y="603.0" width="1" height="29.5" fill="#c0c0c0"/>
<rect x="445" y="603.0" width="1" height="31.5" fill="#c0c0c0"/>
<rect x="453" y="603.0" width="1" height="29.5" fill="#c0c0c0"/>
<rect x="461" y="603.0" width="1" height="28.5" fill="#c0c0c0"/>
<rect x="469" y="603.0" width="1" height="25.4" fill="#c0c0c0"/>
<rect x="477" y="603.0" width="1" height="24.4" fill="#c0c0c0"/>
<rect x="485" y="603.0" width="1" height="21.9" fill="#c0c0c0"/>
<rect x="493" y="603.0" width="1" height="19.3" fill="#c0c0c0"/>
<rect x="501" y="603.0" width="1" height="15.8" fill="#c0c0c0"/>
<rect x="509" y="603.0" width="1" height="13.7" fill="#c0c0c0"/>
<rect x="517" y="603.0" width="1" height="7.6" fill="#c0c0c0"/>
<rect x="525" y="603.0" width="1" height="6.0" fill="#c0c0c0"/>
<rect x="533" y="603.0" width="1" height="7.0" fill="#c0c0c0"/>
<rect x="541" y="603.0" width="1" height="7.0" fill="#c0c0c0"/>
<rect x="549" y="603.0" width="1" height="4.0" fill="#c0c0c0"/>
<rect x="557" y="603" width="1" height="1" fill="#c0c0c0"/>
<rect x="565" y="603" width="1" height="1" fill="#c0c0c0"/>
<rect x="573" y="603.0" width="1" height="1.0" fill="#c0c0c0"/>
<rect x="581" y="603.0" width="1" height="1.0" fill="#c0c0c0"/>
<rect x="589" y="603" width="1" height="1" fill="#c0c0c0"/>
<rect x="597" y="603" width="1" height="1" fill="#c0c0c0"/>
<rect x="605" y="603" width="1" height="1" fill="#c0c0c0"/>
<rect x="613" y="603" width="1" height="1" fill="#c0c0c0"/>
<rect x="621" y="603" width="1" height="1" fill="#c0c0c0"/>
<rect x="629" y="603" width="1" height="1" fill="#c0c0c0"/>
<rect x="637" y="603" width="1" height="1" fill="#c0c0c0"/>
<rect x="645" y="601.2" width="1" height="1.8" fill="#c0c0c0"/>
<rect x="653" y="598.7" width="1" height="4.3" fill="#c0c0c0"/>
<rect x="661" y="594.2" width="1" height="8.8" fill="#c0c0c0"/>
<rect x="669" y="594.2" width="1" height="8.8" fill="#c0c0c0"/>
<rect x="677" y="588.9" width="1" height="14.1" fill="#c0c0c0"/>
<rect x="685" y="586.0" width="1" height="17.0" fill="#c0c0c0"/>
<rect x="693" y="584.0" width="1" height="19.0" fill="#c0c0c0"/>
<rect x="701" y="582.8" width="1" height="20.2" fill="#c0c0c0"/>
<rect x="709" y="582.0" width="1" height="21.0" fill="#c0c0c0"/>
<rect x="717" y="582.8" width="1" height="20.2" fill="#c0c0c0"/>
<rect x="725" y="584.8" width="1" height="18.2" fill="#c0c0c0"/>
<rect x="733" y="586.9" width="1" height="16.1" fill="#c0c0c0"/>
<rect x="741" y="593.0" width="1" height="10.0" fill="#c0c0c0"/>
<rect x="749" y="603" width="1" height="1" fill="#c0c0c0"/>
<rect x="757" y="603.0" width="1" height="11.1" fill="#c0c0c0"/>
<rect x="765" y="603.0" width="1" height="15.8" fill="#c0c0c0"/>
<rect x="773" y="603.0" width="1" height="18.7" fill="#c0c0c0"/>
<rect x="781" y="603.0" width="1" height="20.7" fill="#c0c0c0"/>
<rect x="789" y="603.0" width="1" height="21.9" fill="#c0c0c0"/>
<rect x="797" y="603.0" width="1" height="25.4" fill="#c0c0c0"/>
<rect x="805" y="603.0" width="1" height="30.5" fill="#c0c0c0"/>
<rect x="813" y="603.0" width="1" height="31.5" fill="#c0c0c0"/>
<rect x="821" y="603.0" width="1" height="36.7" fill="#c0c0c0"/>
<rect x="829" y="603.0" width="1" height="37.7" fill="#c0c0c0"/>
<rect x="837" y="603.0" width="1" height="37.7" fill="#c0c0c0"/>
<rect x="845" y="603.0" width="1" height="37.7" fill="#c0c0c0"/>
<rect x="853" y="603.0" width="1" height="37.7" fill="#c0c0c0"/>
<rect x="861" y="603.0" width="1" height="35.6" fill="#c0c0c0"/>
<rect x="869" y="603.0" width="1" height="36.7" fill="#c0c0c0"/>
<rect x="877" y="603.0" width="1" height="39.1" fill="#c0c0c0"/>
<rect x="885" y="603.0" width="1" height="42.8" fill="#c0c0c0"/>
<rect x="893" y="603.0" width="1" height="45.9" fill="#c0c0c0"/>
<rect x="901" y="603.0" width="1" height="50.6" fill="#c0c0c0"/>
<rect x="909" y="603.0" width="1" height="55.5" fill="#c0c0c0"/>
<rect x="917" y="603.0" width="1" height="55.5" fill="#c0c0c0"/>
<rect x="925" y="603.0" width="1" height="53.4" fill="#c0c0c0"/>
<rect x="933" y="603.0" width="1" height="55.5" fill="#c0c0c0"/>
<rect x="941" y="603.0" width="1" height="56.7" fill="#c0c0c0"/>
<rect x="949" y="603.0" width="1" height="54.7" fill="#c0c0c0"/>
<rect x="957" y="603.0" width="1" height="48.5" fill="#c0c0c0"/>
<rect x="965" y="603.0" width="1" height="44.4" fill="#c0c0c0"/>
<rect x="973" y="603.0" width="1" height="41.8" fill="#c0c0c0"/>
<rect x="981" y="603.0" width="1" height="37.7" fill="#c0c0c0"/>
<rect x="989" y="603.0" width="1" height="35.6" fill="#c0c0c0"/>
<rect x="997" y="603.0" width="1" height="34.6" fill="#c0c0c0"/>
<rect x="1005" y="603.0" width="1" height="29.5" fill="#c0c0c0"/>
<rect x="1013" y="603.0" width="1" height="26.8" fill="#c0c0c0"/>
<rect x="1021" y="603.0" width="1" height="20.7" fill="#c0c0c0"/>
<rect x="1029" y="603.0" width="1" height="13.7" fill="#c0c0c0"/>
<rect x="1037" y="603.0" width="1" height="9.7" fill="#c0c0c0"/>
<rect x="1045" y="603.0" width="1" height="5.6" fill="#c0c0c0"/>
<rect x="1053" y="603" width="1" height="1" fill="#c0c0c0"/>
<rect x="1061" y="601.2" width="1" height="1.8" fill="#c0c0c0"/>
<rect x="1069" y="601.2" width="1" height="1.8" fill="#c0c0c0"/>
<rect x="1077" y="603" width="1" height="1" fill="#c0c0c0"/>
<rect x="1085" y="603" width="1" height="1" fill="#c0c0c0"/>
<rect x="1093" y="603.0" width="1" height="3.9" fill="#c0c0c0"/>
<rect x="1101" y="603.0" width="1" height="12.5" fill="#c0c0c0"/>
<rect x="1109" y="603.0" width="1" height="16.6" fill="#c0c0c0"/>
<rect x="1117" y="603.0" width="1" height="20.7" fill="#c0c0c0"/>
</g>
<g clip-path="url(#cmacd)">
<polyline fill="none" stroke="#ff0000" stroke-width="1.2" stroke-dasharray="3,3" points="5.0,664.2 18.4,660.5 36.8,651.0 53.2,636.6 65.5,623.3 81.9,607.0 94.1,596.7 110.5,588.1 122.8,586.5 135.0,586.5 143.2,588.5 159.6,591.0 171.9,593.6 184.2,594.2 196.4,591.6 212.8,586.5 225.0,582.4 237.4,581.3 249.6,583.4 261.9,589.5 274.2,597.7 286.5,607.0 292.3,610.0 308.6,617.6 329.1,618.2 341.4,616.1 357.8,612.0 368.0,609.6 382.3,607.5 402.8,608.0 421.2,610.6 431.4,614.7 443.7,620.2 453.9,624.3 464.2,627.4 476.4,630.5 501.0,629.8 515.3,625.3 525.5,622.3 535.8,618.8 550.1,615.1 562.4,611.4 572.3,609.4 582.5,606.9 600.9,605.3 613.2,604.3 641.8,604.1 658.2,601.8 670.5,600.4 682.8,597.3 695.0,594.6 707.3,590.1 719.6,586.9 731.9,585.4 744.2,585.6 756.4,590.1 768.7,595.7 781.0,602.8 793.3,612.0 805.5,618.8 817.8,625.7 832.1,631.9 846.5,635.2 852.3,635.6 860.5,638.0 872.7,639.3 885.0,642.1 897.3,643.8 909.6,646.2 921.9,648.9 934.1,652.4 946.4,655.6 962.8,656.0 975.0,654.4 991.4,650.3 1003.7,646.8 1016.0,641.7 1028.3,635.2 1040.5,628.4 1052.8,622.9 1065.1,616.1 1077.4,611.4 1089.6,607.3 1101.9,606.5 1117.0,609.0"/>
</g>
<rect x="4" y="566" width="1417" height="1" fill="#000"/>
<rect x="4" y="669" width="1417" height="1" fill="#000"/>
<rect x="4" y="566" width="1" height="104" fill="#000"/>
<rect x="1420" y="566" width="1" height="104" fill="#000"/>
<text x="9" y="578.5" font-size="9.6" textLength="153.55" lengthAdjust="spacingAndGlyphs" fill="#000" >MACD(12,26,9) -0.001801 -0.000514</text>
<text x="1424" y="576.5" font-size="9.6" textLength="38.37" lengthAdjust="spacingAndGlyphs" fill="#000" >0.003003</text>
<text x="1424" y="606.5" font-size="9.6" textLength="17.91" lengthAdjust="spacingAndGlyphs" fill="#000" >0.00</text>
<text x="1424" y="665.5" font-size="9.6" textLength="41.44" lengthAdjust="spacingAndGlyphs" fill="#000" >-0.005648</text>
<rect x="1421" y="603" width="2" height="1" fill="#000"/>
<g clip-path="url(#crsi)">
<line x1="6" y1="711.5" x2="1420" y2="711.5" stroke="#c0c0c0" stroke-width="1" stroke-dasharray="3,3"/>
<line x1="6" y1="762.5" x2="1420" y2="762.5" stroke="#c0c0c0" stroke-width="1" stroke-dasharray="3,3"/>
<polyline fill="none" stroke="#1e90ff" stroke-width="1" shape-rendering="crispEdges" points="5.5,735.5 13.5,734.4 21.5,731.8 29.5,729.9 37.5,728.7 45.5,727.3 53.5,724.6 61.5,725.2 69.5,725.2 77.5,724.2 85.5,731.4 93.5,728.7 101.5,732.8 109.5,734.4 117.5,735.5 125.5,742.2 133.5,737.5 141.5,746.3 149.5,731.4 157.5,731.4 165.5,734.4 173.5,735.5 181.5,721.1 189.5,719.5 197.5,723.2 205.5,724.6 213.5,731.4 221.5,726.7 229.5,746.3 237.5,748.3 245.5,749.2 253.5,746.7 261.5,751.2 269.5,744.3 277.5,745.1 285.5,742.6 293.5,737.5 301.5,736.5 309.5,739.5 317.5,732.4 325.5,732.4 333.5,743.0 341.5,738.1 349.5,734.4 357.5,732.4 365.5,728.3 373.5,737.5 381.5,743.6 389.5,748.3 397.5,743.6 405.5,744.3 413.5,745.7 421.5,753.3 429.5,754.5 437.5,748.3 445.5,750.4 453.5,743.0 461.5,744.3 469.5,739.5 477.5,743.0 485.5,739.5 493.5,739.5 501.5,736.5 509.5,738.1 517.5,729.3 525.5,736.1 533.5,740.6 541.5,740.6 549.5,732.4 557.5,729.3 565.5,740.2 573.5,740.2 581.5,736.1 589.5,734.4 597.5,734.4 605.5,745.1 613.5,733.4 621.5,735.5 629.5,736.5 637.5,736.5 645.5,732.4 653.5,731.4 661.5,723.8 669.5,733.4 677.5,725.2 685.5,725.2 693.5,725.2 701.5,727.3 709.5,725.2 717.5,732.0 725.5,732.4 733.5,736.1 741.5,745.1 749.5,758.6 757.5,757.4 765.5,751.8 773.5,750.4 781.5,747.7 789.5,748.8 797.5,753.9 805.5,758.0 813.5,751.8 821.5,758.0 829.5,752.9 837.5,749.2 845.5,750.8 853.5,752.4 861.5,749.2 869.5,751.8 877.5,758.6 885.5,760.0 893.5,761.4 901.5,765.5 909.5,769.2 917.5,758.0 925.5,753.9 933.5,758.0 941.5,759.4 949.5,753.9 957.5,744.3 965.5,745.1 973.5,747.1 981.5,745.1 989.5,747.1 997.5,750.4 1005.5,740.6 1013.5,742.2 1021.5,732.0 1029.5,727.3 1037.5,733.4 1045.5,732.0 1053.5,725.2 1061.5,728.7 1069.5,737.5 1077.5,737.5 1085.5,743.6 1093.5,747.7 1101.5,756.5 1109.5,752.4 1117.5,752.4"/>
</g>
<rect x="4" y="671" width="1417" height="1" fill="#000"/>
<rect x="4" y="801" width="1417" height="1" fill="#000"/>
<rect x="4" y="671" width="1" height="131" fill="#000"/>
<rect x="1420" y="671" width="1" height="131" fill="#000"/>
<text x="9" y="684" font-size="9.6" textLength="68.24" lengthAdjust="spacingAndGlyphs" fill="#000" >RSI(14) 37.8407</text>
<text x="1424" y="682" font-size="9.6" textLength="15.35" lengthAdjust="spacingAndGlyphs" fill="#000" >100</text>
<text x="1424" y="715" font-size="9.6" textLength="10.23" lengthAdjust="spacingAndGlyphs" fill="#000" >70</text>
<text x="1424" y="766" font-size="9.6" textLength="10.23" lengthAdjust="spacingAndGlyphs" fill="#000" >30</text>
<text x="1424" y="798" font-size="9.6" textLength="5.12" lengthAdjust="spacingAndGlyphs" fill="#000" >0</text>
<rect x="1421" y="673" width="2" height="1" fill="#000"/>
<rect x="5" y="802" width="1" height="3" fill="#000"/>
<text x="4" y="814" font-size="9.6" textLength="45.53" lengthAdjust="spacingAndGlyphs" fill="#000" >4 Jan 2019</text>
<rect x="69" y="802" width="1" height="3" fill="#000"/>
<text x="68" y="814" font-size="9.6" textLength="50.65" lengthAdjust="spacingAndGlyphs" fill="#000" >14 Jan 2019</text>
<rect x="133" y="802" width="1" height="3" fill="#000"/>
<text x="132" y="814" font-size="9.6" textLength="50.65" lengthAdjust="spacingAndGlyphs" fill="#000" >23 Jan 2019</text>
<rect x="197" y="802" width="1" height="3" fill="#000"/>
<text x="196" y="814" font-size="9.6" textLength="46.55" lengthAdjust="spacingAndGlyphs" fill="#000" >1 Feb 2019</text>
<rect x="261" y="802" width="1" height="3" fill="#000"/>
<text x="260" y="814" font-size="9.6" textLength="50.98" lengthAdjust="spacingAndGlyphs" fill="#000" >11 Feb 2019</text>
<rect x="325" y="802" width="1" height="3" fill="#000"/>
<text x="324" y="814" font-size="9.6" textLength="51.67" lengthAdjust="spacingAndGlyphs" fill="#000" >20 Feb 2019</text>
<rect x="389" y="802" width="1" height="3" fill="#000"/>
<text x="388" y="814" font-size="9.6" textLength="46.54" lengthAdjust="spacingAndGlyphs" fill="#000" >1 Mar 2019</text>
<rect x="453" y="802" width="1" height="3" fill="#000"/>
<text x="452" y="814" font-size="9.6" textLength="50.97" lengthAdjust="spacingAndGlyphs" fill="#000" >11 Mar 2019</text>
<rect x="517" y="802" width="1" height="3" fill="#000"/>
<text x="516" y="814" font-size="9.6" textLength="51.66" lengthAdjust="spacingAndGlyphs" fill="#000" >20 Mar 2019</text>
<rect x="581" y="802" width="1" height="3" fill="#000"/>
<text x="580" y="814" font-size="9.6" textLength="51.66" lengthAdjust="spacingAndGlyphs" fill="#000" >29 Mar 2019</text>
<rect x="645" y="802" width="1" height="3" fill="#000"/>
<text x="644" y="814" font-size="9.6" textLength="44.51" lengthAdjust="spacingAndGlyphs" fill="#000" >8 Apr 2019</text>
<rect x="709" y="802" width="1" height="3" fill="#000"/>
<text x="708" y="814" font-size="9.6" textLength="49.62" lengthAdjust="spacingAndGlyphs" fill="#000" >17 Apr 2019</text>
<rect x="773" y="802" width="1" height="3" fill="#000"/>
<text x="772" y="814" font-size="9.6" textLength="49.62" lengthAdjust="spacingAndGlyphs" fill="#000" >28 Apr 2019</text>
<rect x="837" y="802" width="1" height="3" fill="#000"/>
<text x="836" y="814" font-size="9.6" textLength="48.08" lengthAdjust="spacingAndGlyphs" fill="#000" >7 May 2019</text>
<rect x="901" y="802" width="1" height="3" fill="#000"/>
<text x="900" y="814" font-size="9.6" textLength="53.19" lengthAdjust="spacingAndGlyphs" fill="#000" >16 May 2019</text>
<rect x="965" y="802" width="1" height="3" fill="#000"/>
<text x="964" y="814" font-size="9.6" textLength="53.19" lengthAdjust="spacingAndGlyphs" fill="#000" >26 May 2019</text>
<rect x="1029" y="802" width="1" height="3" fill="#000"/>
<text x="1028" y="814" font-size="9.6" textLength="45.53" lengthAdjust="spacingAndGlyphs" fill="#000" >4 Jun 2019</text>
<rect x="1093" y="802" width="1" height="3" fill="#000"/>
<text x="1092" y="814" font-size="9.6" textLength="50.65" lengthAdjust="spacingAndGlyphs" fill="#000" >13 Jun 2019</text>
<rect x="0" y="822" width="1466" height="2" fill="#f0f0f0"/>
<rect x="0" y="823" width="1466" height="1" fill="#fafafa"/>
<rect x="0" y="824" width="1466" height="1" fill="#000"/>
<rect x="0" y="825" width="1466" height="18" fill="#f0f0f0"/>
<rect x="0" y="825" width="1" height="18" fill="#a8a8a8"/>
<rect x="1" y="825" width="1" height="18" fill="#6a6a6a"/>
<rect x="2" y="825" width="1" height="18" fill="#fff"/>
<rect x="0" y="843" width="1466" height="2" fill="#fbfbfb"/>
<rect x="114" y="824" width="108" height="19" fill="#000"/>
<rect x="115" y="824" width="106" height="18" fill="#fff"/>
<text x="124.3" y="838.5" font-size="12" textLength="87.5" lengthAdjust="spacingAndGlyphs" fill="#000">AUDUSD-,Daily</text>
<text x="17.5" y="838.5" font-size="12" fill="#6e6e6e">EURUSD-,Daily</text>
<text x="234" y="838.5" font-size="12" fill="#6e6e6e">USDCHF-,Daily</text>
<text x="341" y="838.5" font-size="12" fill="#6e6e6e">USDCAD-,Daily</text>
<text x="450" y="838.5" font-size="12" fill="#6e6e6e">USDCNH-,Daily</text>
<text x="561" y="838.5" font-size="12" fill="#6e6e6e">EURCHF-,Weekly</text>
<rect x="330" y="827" width="1" height="14" fill="#555"/>
<rect x="438" y="827" width="1" height="14" fill="#555"/>
<rect x="550" y="827" width="1" height="14" fill="#555"/>
<rect x="670" y="827" width="1" height="14" fill="#555"/>
<polygon points="1435,833 1439,829 1439,837" fill="#a0a0a0"/>
<polygon points="1458,833 1454,829 1454,837" fill="#a0a0a0"/>
</svg></body></html>
